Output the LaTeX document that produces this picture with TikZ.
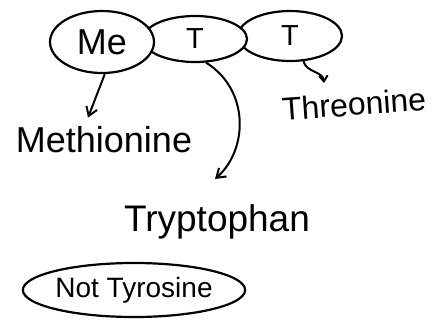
\documentclass[tikz,border=0pt]{standalone}
\usepackage{fontspec}
\setmainfont{Liberation Sans}
\usetikzlibrary{arrows.meta,shapes.geometric}

\begin{document}
\begin{tikzpicture}[x=1pt, y=-1pt,
  blob/.style={draw, ellipse, fill=white, line width=2.2pt, inner sep=0pt},
  word/.style={inner sep=1pt},
  arrow/.style={-{Straight Barb[length=3mm, width=4mm]}, line width=2pt}
]
\useasboundingbox (0,0) rectangle (440,325);
% the three-letter chain, drawn right to left so each link hides the next
\node[blob, minimum width=104, minimum height=50, font=\fontsize{29}{31}\selectfont] (t2) at (290,36) {T};
\node[blob, minimum width=104, minimum height=46, font=\fontsize{29}{31}\selectfont] (t1) at (195,39) {T};
\node[blob, minimum width=104, minimum height=62, font=\fontsize{36}{38}\selectfont] (me) at (102,42) {Me};
% names
\node[word, font=\fontsize{36}{38}\selectfont] (met) at (104,140) {Methionine};
\node[word, font=\fontsize{32}{34}\selectfont, rotate=4] (thr) at (354,104) {Threonine};
\node[word, font=\fontsize{37}{39}\selectfont] (trp) at (217,222) {Tryptophan};
\node[blob, minimum width=214, minimum height=54, font=\fontsize{28}{30}\selectfont] (tyr) at (134,290) {Not Tyrosine};
\coordinate (thrtip) at (324,83);
\coordinate (trptip) at (215,179);
% arrows
\draw[arrow] (me.-85) -- ([xshift=-16pt, yshift=8pt]met.north);
\draw[arrow] (t1.-65) .. controls (250,90) and (248,150) .. (trptip);
\draw[arrow, -{Straight Barb[length=2mm, width=3mm]}] (t2.-62) to[out=-75, in=95] (thrtip);
\end{tikzpicture}
\end{document}
